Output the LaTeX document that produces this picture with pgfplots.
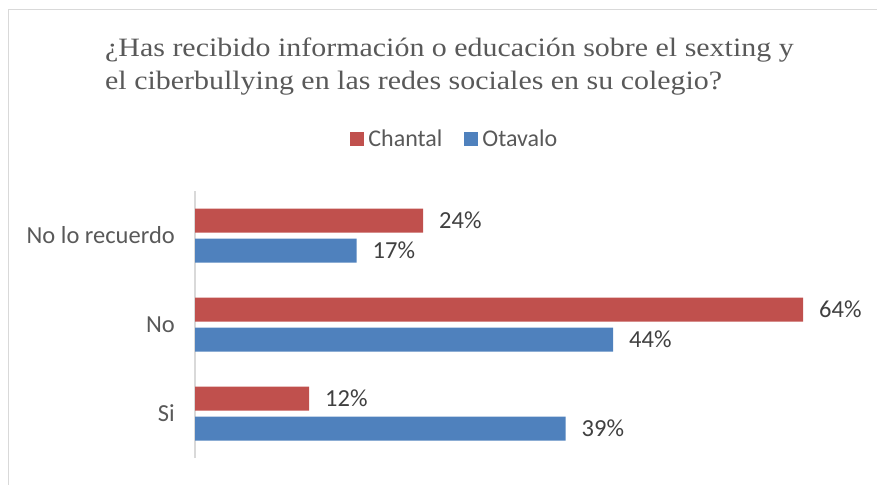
\documentclass[border=0pt]{standalone}
\usepackage{fontspec}
\setmainfont{Carlito}
\newfontfamily\titlefont[FakeStretch=1.13]{Liberation Serif}
\usepackage{pgfplots}
\pgfplotsset{compat=1.18}
\definecolor{cred}{HTML}{C0504D}
\definecolor{cblue}{HTML}{4F81BD}
\definecolor{ctxt}{HTML}{595959}
\definecolor{clab}{HTML}{404040}
\definecolor{cline}{HTML}{D9D9D9}
\begin{document}
\begin{tikzpicture}[x=1pt,y=1pt]
\useasboundingbox (0,0) rectangle (877,-484);
\draw[cline, line width=1.5pt] (8.5,-9.5) rectangle (920,-520);
\node[anchor=base west, inner sep=0pt, text=ctxt, font=\titlefont\fontsize{26.5}{30}\selectfont] at (105,-56.7) {¿Has recibido información o educación sobre el sexting y};
\node[anchor=base west, inner sep=0pt, text=ctxt, font=\titlefont\fontsize{26.5}{30}\selectfont] at (105,-89.3) {el ciberbullying en las redes sociales en su colegio?};
\begin{axis}[
  at={(195pt,-458pt)}, anchor=south west,
  scale only axis, width=665pt, height=267pt,
  xbar, bar width=24pt,
  xmin=0, xmax=70, ymin=-0.5, ymax=2.5,
  axis x line=none, axis y line*=left,
  y axis line style={cline, line width=1.5pt},
  ytick={0,1,2}, yticklabels={Si,No,No lo recuerdo},
  major tick length=0pt,
  yticklabel style={anchor=east, inner sep=0pt, xshift=-20pt, font=\fontsize{24.5}{28}\selectfont, text=ctxt},
  /pgf/number format/assume math mode=true,
  nodes near coords={\pgfmathprintnumber{\pgfplotspointmeta}\%},
  nodes near coords style={anchor=west, inner sep=0pt, xshift=16pt, font=\fontsize{24.5}{28}\selectfont, text=clab},
  legend columns=2,
  legend style={at={(axis description cs:0.3893,1.1948)}, anchor=center, draw=none, fill=none, inner sep=0pt, column sep=0pt, nodes={inner sep=0pt, text=ctxt, font=\fontsize{24}{28}\selectfont}},
  clip=false,
]
\addplot[fill=cred, draw=none, bar shift=15pt, legend image code/.code={\fill[cred] (0pt,-6.85pt) rectangle (13.7pt,6.85pt); \path (18pt,0pt);}] coordinates {(12,0) (64,1) (24,2)};
\addlegendentry{Chantal\hspace*{22pt}}
\addplot[fill=cblue, draw=none, bar shift=-15pt, legend image code/.code={\fill[cblue] (0pt,-6.85pt) rectangle (13.7pt,6.85pt); \path (18pt,0pt);}] coordinates {(39,0) (44,1) (17,2)};
\addlegendentry{Otavalo}
\end{axis}
\end{tikzpicture}
\end{document}
